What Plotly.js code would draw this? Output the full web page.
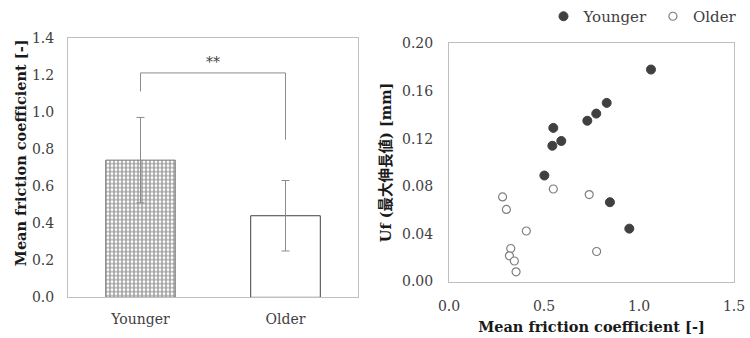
<!DOCTYPE html>
<html>
<head>
<meta charset="utf-8">
<script src="https://cdn.plot.ly/plotly-3.0.1.min.js"></script>
<style>html,body{margin:0;padding:0;background:#fff;}#chart{width:750px;height:338px;}</style>
</head>
<body>
<div id="chart"></div>
<script>
// Left: bar chart
var groups = ["Younger", "Older"];
var meanFriction = [0.74, 0.44];
var frictionSD = [0.23, 0.19];
var sigLevels = [1.11, 1.21, 0.85]; // left leg bottom, bracket top, right leg bottom
var sigLabel = "**";

// Right: scatter
var youngerX = [1.063, 0.830, 0.775, 0.728, 0.549, 0.591, 0.544, 0.502, 0.847, 0.949];
var youngerY = [0.178, 0.150, 0.141, 0.135, 0.129, 0.118, 0.114, 0.089, 0.0666, 0.0444];
var olderX = [0.282, 0.302, 0.549, 0.738, 0.407, 0.325, 0.318, 0.344, 0.353, 0.777];
var olderY = [0.071, 0.0605, 0.0777, 0.073, 0.0424, 0.0277, 0.0216, 0.0172, 0.0081, 0.0252];

var FONT = "DejaVu Serif, Noto Sans CJK JP, serif";
var W = 750, H = 338;
function dx(a, b) { return [a / W, b / W]; }
function dy(top, bottom) { return [1 - bottom / H, 1 - top / H]; }

var traces = [
  {
    type: "bar", x: groups, y: meanFriction, xaxis: "x", yaxis: "y", showlegend: false,
    marker: {
      color: ["#8c8c8c", "#ffffff"],
      line: {color: ["#7f7f7f", "#404040"], width: 1},
      pattern: {shape: ["+", ""], fgcolor: "#4a4a4a", bgcolor: "#a8a8a8", size: 4, solidity: 0.5}
    },
    error_y: {type: "data", array: frictionSD, visible: true, color: "#8c8c8c", thickness: 1, width: 4},
    hoverinfo: "none"
  },
  {
    type: "scatter", mode: "markers", name: "Younger", x: youngerX, y: youngerY,
    xaxis: "x2", yaxis: "y2",
    marker: {symbol: "circle", size: 9, color: "#404040", line: {color: "#404040", width: 1}}
  },
  {
    type: "scatter", mode: "markers", name: "Older", x: olderX, y: olderY,
    xaxis: "x2", yaxis: "y2",
    marker: {symbol: "circle", size: 8, color: "#ffffff", line: {color: "#7f7f7f", width: 1.2}}
  }
];

var axisCommon = {
  showgrid: false, zeroline: false, showline: true, mirror: true,
  linecolor: "#bfbfbf", linewidth: 1, ticks: "",
  tickfont: {family: FONT, size: 14, color: "#404040"}
};
var titleFont = {family: FONT, size: 14.5, color: "#1a1a1a", weight: "bold"};

var layout = {
  width: W, height: H,
  margin: {l: 0, r: 0, t: 0, b: 0},
  paper_bgcolor: "#ffffff", plot_bgcolor: "#ffffff",
  bargap: 0.52,
  xaxis: Object.assign({}, axisCommon, {
    domain: dx(68, 358), anchor: "y", type: "category", ticklabelstandoff: 9
  }),
  yaxis: Object.assign({}, axisCommon, {
    domain: dy(35, 297), anchor: "x", range: [0, 1.4], dtick: 0.2, tickformat: ".1f",
    ticklabelstandoff: 10
  }),
  xaxis2: Object.assign({}, axisCommon, {
    domain: dx(449, 734), anchor: "y2", range: [0, 1.5], dtick: 0.5, tickformat: ".1f",
    ticklabelstandoff: 12,
    title: {text: "Mean friction coefficient [-]", font: titleFont, standoff: 8}
  }),
  yaxis2: Object.assign({}, axisCommon, {
    domain: dy(40.7, 281), anchor: "x2", range: [0, 0.2], dtick: 0.04, tickformat: ".2f",
    ticklabelstandoff: 12,
    title: {text: "Uf (最大伸長値) [mm]", font: titleFont, standoff: 6}
  }),
  legend: {
    orientation: "h", x: 0.99, xanchor: "right", y: 1.01, yanchor: "top",
    font: {family: FONT, size: 15, color: "#404040"},
    bgcolor: "rgba(0,0,0,0)", itemwidth: 30, tracegroupgap: 0
  },
  shapes: [
    {type: "line", xref: "x", yref: "y", x0: 0, x1: 0, y0: sigLevels[0], y1: sigLevels[1], line: {color: "#8c8c8c", width: 1}},
    {type: "line", xref: "x", yref: "y", x0: 0, x1: 1, y0: sigLevels[1], y1: sigLevels[1], line: {color: "#8c8c8c", width: 1}},
    {type: "line", xref: "x", yref: "y", x0: 1, x1: 1, y0: sigLevels[2], y1: sigLevels[1], line: {color: "#8c8c8c", width: 1}}
  ],
  annotations: [
    {xref: "x", yref: "y", x: 0.5, y: sigLevels[1], yanchor: "bottom", yshift: 1, text: sigLabel, showarrow: false,
     font: {family: FONT, size: 14, color: "#404040"}},
    {xref: "paper", yref: "paper", x: 20 / W, y: 1 - 151.5 / H, xanchor: "center", yanchor: "middle",
     textangle: -90, text: "Mean friction coefficient [-]", showarrow: false, font: titleFont}
  ]
};

Plotly.newPlot("chart", traces, layout, {displayModeBar: false, staticPlot: true});
</script>
</body>
</html>
